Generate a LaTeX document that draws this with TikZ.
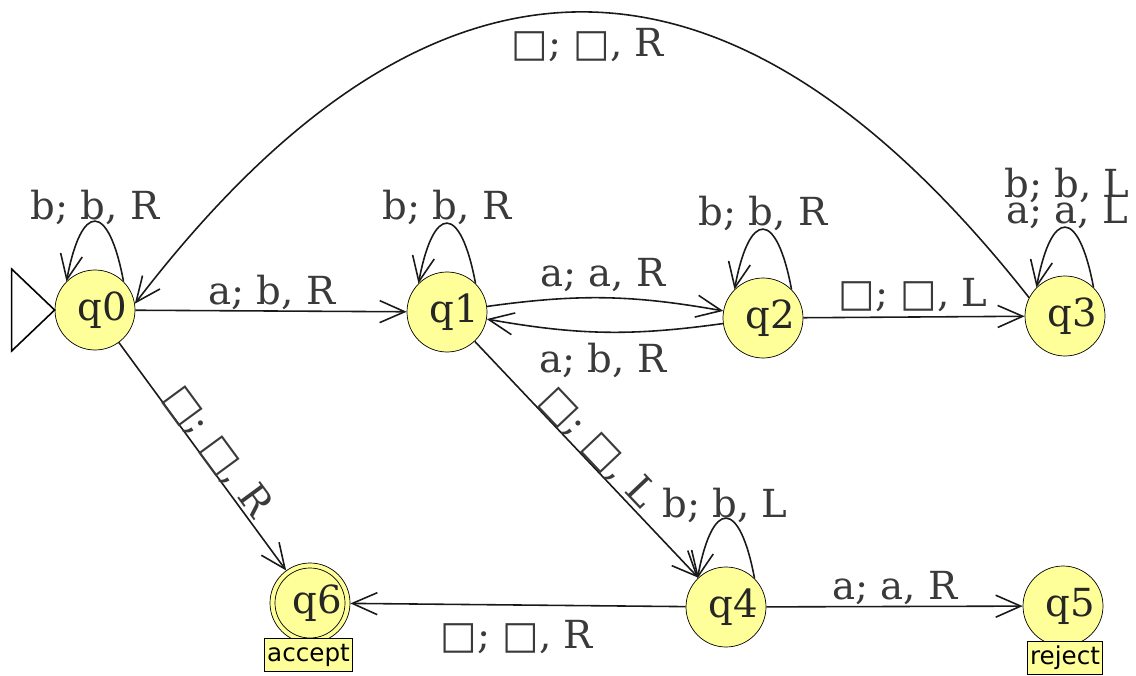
\documentclass[tikz,border=0pt]{standalone}
\usepackage{fontspec}
\setmainfont{DejaVu Serif}
\newfontfamily\dvsans{DejaVu Sans}
\usetikzlibrary{arrows.meta}
\definecolor{stateyellow}{RGB}{255,255,153}
\definecolor{labelgray}{RGB}{58,58,58}
\newcommand{\blank}{{\dvsans\symbol{"25A1}}}
\tikzset{
    state/.style={circle, draw=black, fill=stateyellow, minimum size=1.6cm,
        inner sep=0pt, font=\fontsize{22}{26}\selectfont, text=black!85,
        execute at begin node={\hspace{0.28cm}}}, % JFLAP puts the name a bit right
    trans/.style={font=\fontsize{22}{26}\selectfont, text=labelgray, inner sep=1pt},
    move/.style={draw=black!90, line width=0.9pt,
        -{Straight Barb[length=5mm,width=4.4mm]}},
    tag/.style={draw=black, fill=stateyellow, font=\dvsans\fontsize{14}{16}\selectfont,
        inner xsep=1.5pt, inner ysep=0pt, minimum height=0.66cm},
}

\begin{document}
\begin{tikzpicture}
    \useasboundingbox (0,0) rectangle (22.72,13.5);
    % states
    \node[state] (q0) at (1.90, 7.30) {q0};
    \node[state] (q1) at (8.94, 7.26) {q1};
    \node[state] (q2) at (15.26, 7.14) {q2};
    \node[state] (q3) at (21.30, 7.18) {q3};
    \node[state] (q4) at (14.52, 1.36) {q4};
    \node[state] (q5) at (21.26, 1.38) {q5};
    \node[state] (q6) at (6.20, 1.44) {q6};
    \draw[black] (q6) circle (0.7);
    \node[tag] (acc) at (6.17, 0.40) {accept};
    \node[tag] (rej) at (21.30, 0.34) {reject};
    % start marker
    \draw[line width=0.9pt] (q0.west) -- ++(-0.86, 0.82) -- ++(0, -1.64) -- cycle;
    % self loops
    \draw[move] (q0.45) .. controls +(-0.3, 1.6) and +(0.3, 1.6) .. (q0.135);
    \draw[move] (q1.45) .. controls +(-0.3, 1.6) and +(0.3, 1.6) .. (q1.135);
    \draw[move] (q2.45) .. controls +(-0.3, 1.6) and +(0.3, 1.6) .. (q2.135);
    \draw[move] (q3.45) .. controls +(-0.3, 1.6) and +(0.3, 1.6) .. (q3.135);
    \draw[move] (q4.45) .. controls +(-0.3, 1.6) and +(0.3, 1.6) .. (q4.135);
    % transitions
    \draw[move] (q0) -- (q1);
    \draw[move] (q1) to[bend left=9] (q2);
    \draw[move] (q2) to[bend left=9] (q1);
    \draw[move] (q2) -- (q3);
    \draw[move] (q3.153) .. controls (14.56, 15.2) and (8.62, 15.16) .. (q0.9);
    \draw[move] (q0) -- (q6);
    \draw[move] (q1) -- (q4);
    \draw[move] (q4) -- (q5);
    \draw[move] (q4) -- (q6);
    % labels
    \node[trans] (l00) at (1.90, 9.36) {b; b, R};
    \node[trans] (l01) at (5.44, 7.66) {a; b, R};
    \node[trans] (l11) at (8.94, 9.36) {b; b, R};
    \node[trans] (l12) at (12.06, 8.00) {a; a, R};
    \node[trans] (l21) at (12.06, 6.30) {a; b, R};
    \node[trans] (l22) at (15.26, 9.24) {b; b, R};
    \node[trans] (l23) at (18.26, 7.60) {\blank; \blank, L};
    \node[trans] (l33b) at (21.34, 9.80) {b; b, L};
    \node[trans] (l33a) at (21.34, 9.26) {a; a, L};
    \node[trans] (l30) at (11.76, 12.60) {\blank; \blank, R};
    \node[trans, rotate=-53.7] (l06) at (4.36, 4.46) {\blank; \blank, R};
    \node[trans, rotate=-46.6] (l14) at (11.96, 4.54) {\blank; \blank, L};
    \node[trans] (l44) at (14.50, 3.40) {b; b, L};
    \node[trans] (l45) at (17.90, 1.74) {a; a, R};
    \node[trans] (l46) at (10.34, 0.76) {\blank; \blank, R};
\end{tikzpicture}
\end{document}
